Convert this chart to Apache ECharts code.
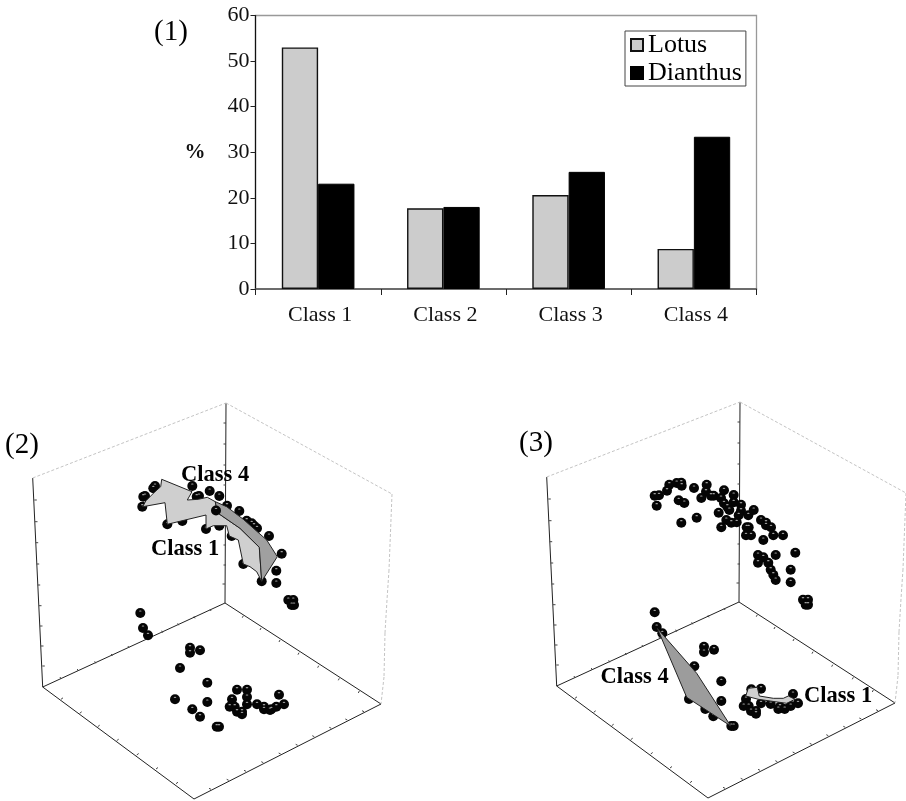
<!DOCTYPE html>
<html><head><meta charset="utf-8">
<style>html,body{margin:0;padding:0;background:#fff}#c{width:906px;height:801px}</style>
<script src="https://cdn.jsdelivr.net/npm/echarts@6/dist/echarts.min.js"></script>
</head><body><div id="c"></div>
<script>
const categories = ['Class 1','Class 2','Class 3','Class 4'];
const lotus = [53, 17.7, 20.6, 8.8];
const dianthus = [23.1, 18, 25.7, 33.4];
const yTicks = [0,10,20,30,40,50,60];

// Projected points (panel 2)
const panel2Points = [
[143.3,496.7],[145,496],[142.3,506.7],[155,486],[153.3,488.3],[192.3,486],[199,496],[196.7,496.7],[209.7,491],[219.3,496],
[227,505.7],[239.3,511],[246.7,520.7],[251.7,523.3],[254,525.7],[257,528.3],[269,536],[281.7,553.7],[276.3,570.7],[276.3,583],
[261.7,581.3],[243.3,564],[231.7,536],[219.3,525.7],[206,529],[182.3,521],[167.3,524.3],[216,510.7],
[288.3,600],[293.3,600],[291.7,605],[294,605],
[140.3,613],[143,628],[148,635.3],[190,647.7],[190,652.7],[200,650.3],[180,668],[207.3,682.7],[175,699.3],[207.3,702],
[192.3,709.3],[200,716.7],[216.7,726.7],[219,726.7],[237,689.7],[247,689.7],[247,697],[232,699.3],[247,704.3],[229.7,706.7],
[234.7,706.7],[237,711.7],[242,711.7],[242,714.3],[257,704.3],[264,706.7],[264,709.3],[270,710],[271.3,709.3],[276.3,706.7],
[279,694.7],[284,704.3]];
// Points drawn over the shaded surface in panel 2
const panel2TopPoints = [[216,510.5]];
// Projected points (panel 3)
const panel3Points = [
[654.7,495.7],[659,495.3],[656.7,505.7],[667,490.7],[669.3,484.7],[676.7,483],[681.3,482.7],[681.7,485.7],[678.7,500.3],[684.3,503],
[681.3,522.7],[696.7,517.7],[694,488],[706.7,484.7],[706,491.7],[701.3,498],[711,495.7],[713.7,495.7],[724,490.3],[721,498],
[724,503.3],[733.7,495],[733.7,502.3],[727.3,506.7],[729.3,510],[741,504.7],[741,510.7],[718.7,512.7],[738.7,515.3],[748.3,515.3],
[753.7,510],[726.3,520],[731.3,522.7],[736.7,522.3],[721.3,527.3],[746.7,527.3],[748.7,527.3],[746,535.3],[751,535.3],[761,520],
[766,522.7],[766,525.3],[771,527.3],[773.3,535.3],[783,535.3],[763.3,540],[758,555],[763.3,557.3],[758,562.7],[768.3,562.7],
[775.7,555],[795.3,552.7],[770.7,569.7],[773.3,574.7],[775.7,580],[790.7,569.7],[790.7,582.3],[803,599.7],[808,599.7],[805.7,604.7],
[808,604.7],[654.7,612.3],
[656.7,627],[662.3,633.3],[704,646.7],[704,652],[714,649.7],[694.3,666.3],[721.3,681.3],[689,699],[721.3,701],[705.3,709],
[713.3,716.3],[731.3,726],[733.7,726],[751.3,689.3],[761,688.7],[761,703.3],[746,699],[748.7,706],[743.7,706],[751,711],
[756,711],[756,713.7],[770.7,704],[778.3,709],[784.7,709],[790.7,706],[793,694],[798,703.3],[780,706.7]];

const panel2Class1 = [[142.7,506.7],[146,500.7],[155,491.7],[160.7,486.7],[161.7,479.3],[192,491.7],[187.3,500],[198.3,499.3],[207.3,497.3],
[215.3,501.7],[217.3,512.7],[240,528.3],[259.3,547.3],[261.7,581.3],[256.7,571.7],[250,566.7],[243.3,564],[238.3,540],[229.3,536],
[226.7,525.7],[213.3,525.7],[206,529],[206,515],[167.3,524.3],[165,502.7]];
const panel2Class4 = [[215.3,501.7],[226.7,506.7],[243.3,519.3],[266.7,540],[277.3,556.7],[261.7,581.3],[259.3,547.3],[240,528.3],[217.3,512.7]];
const panel3Class4 = [[657.3,628.3],[696.7,673.3],[730.7,726],[686.7,697.3]];
const panel3Class1 = [[745.7,696],[748.3,688.3],[757.3,687.3],[759.3,696],[773.3,698.3],[783.3,698.3],[788.3,696],[795,699.3],[786.7,703.3],[775,701.7],[758.3,699.3]];

// 3-D box frame of panel 2; panel 3 is the same box moved by frameShift
const frameSolid = [[32.7,478,42.7,687],[226,403,225,603],[42.7,687,225,603],[225,603,381,704],[381,704,194,799],[194,799,42.7,687]];
const frameDashed = [[32.7,478,226,403],[226,403,392,494],[392,494,389,570],[389,570,387,600],[387,600,385,633],[385,633,384,677],[384,677,381,704]];
const ticksLeft = [[34.3,500],[35,521.7],[35.7,542.7],[36.7,564],[37.7,585],[39,605.7],[40,626],[41,646],[42.3,666]];
const ticksBack = [[226,423],[226,444],[226,465],[226,485],[226,505],[226,525],[226,545],[226,565],[225,584]];
const ticksFloorBL = [[61,679],[78.3,671],[95.7,663.3],[112.3,656],[129,648],[146,640],[162.7,632.7],[178.7,625.3],[195,618.3],[211,611]];
const ticksFloorFL = [[61,699.3],[79.7,713.3],[97.7,726.7],[116.7,740.7],[136.7,755],[156,769],[176,783.7]];
const ticksFloorBR = [[243.3,615.7],[261,628],[280,640],[299,652.7],[318.7,665.7],[339.3,678.3],[359.3,691]];
const ticksFloorFR = [[211,789.3],[228.7,780.3],[246,771.3],[263.3,762.7],[280.7,754],[297.7,745.3],[314.3,736.7],[331.3,728.3],[347.3,720],[364,711.7]];
const frameShift = [514,-1];

const tickSegs = (pts,dx,dy)=>pts.map(p=>[p[0],p[1],p[0]+dx,p[1]+dy]);
const allTicks = [].concat(tickSegs(ticksLeft,2.5,0),tickSegs(ticksBack,-2.5,0),tickSegs(ticksFloorBL,-1,-2),
  tickSegs(ticksFloorFL,2,-1.5),tickSegs(ticksFloorBR,-1,2),tickSegs(ticksFloorFR,-2,-1));
const shift = segs=>segs.map(s=>[s[0]+frameShift[0],s[1]+frameShift[1],s[2]+frameShift[0],s[3]+frameShift[1]]);

const FONT = '"Liberation Serif","Times New Roman",serif';
const segSeries = (data,style,z)=>({type:'custom',xAxisIndex:1,yAxisIndex:1,coordinateSystem:'cartesian2d',silent:true,z,clip:false,
  encode:{x:[0,2],y:[1,3]},data,
  renderItem:(p,api)=>{const a=api.coord([api.value(0),api.value(1)]),b=api.coord([api.value(2),api.value(3)]);
    return {type:'line',shape:{x1:a[0],y1:a[1],x2:b[0],y2:b[1]},style};}});
const polySeries = (data,fill,z)=>({type:'custom',xAxisIndex:1,yAxisIndex:1,silent:true,z,clip:false,encode:{x:0,y:1},data,
  renderItem:(p,api)=>{ if(p.dataIndex!==0) return null;
    return {type:'polygon',shape:{points:data.map(d=>api.coord(d))},style:{fill,stroke:'#222',lineWidth:1}};}});
const ballSeries = (data,z)=>[
  {type:'scatter',xAxisIndex:1,yAxisIndex:1,silent:true,z,data,symbol:'circle',symbolSize:10,itemStyle:{color:'#050505',opacity:1}},
  {type:'scatter',xAxisIndex:1,yAxisIndex:1,silent:true,z:z+1,data,symbol:'circle',symbolSize:[2.6,1.2],symbolOffset:[0,-2],itemStyle:{color:'#aaa',opacity:1}}];
const text=(t,x,y,size,bold)=>({type:'text',x,y,z:50,style:{text:t,fill:'#000',font:(bold?'bold ':'')+size+'px '+FONT,textVerticalAlign:'middle'}});

const chart = echarts.init(document.getElementById('c'),null,{renderer:'canvas'});
chart.setOption({
  animation:false,backgroundColor:'#fff',
  textStyle:{fontFamily:FONT},
  grid:[{left:255.5,top:15.5,width:501,height:273.5,show:true,borderColor:'#999',borderWidth:1.3,backgroundColor:'transparent'},
        {left:0,top:0,width:906,height:801,show:false}],
  xAxis:[{type:'category',gridIndex:0,data:categories,axisLine:{lineStyle:{color:'#555',width:1.5}},
          axisTick:{show:true,length:6,alignWithLabel:false,lineStyle:{color:'#222'}},
          axisLabel:{color:'#111',fontSize:22,margin:15,padding:[0,0,0,4],fontFamily:FONT},splitLine:{show:false}},
         {type:'value',gridIndex:1,min:0,max:906,show:false}],
  yAxis:[{type:'value',gridIndex:0,min:0,max:60,interval:10,name:'%',nameLocation:'middle',nameRotate:0,nameGap:50,
          nameTextStyle:{color:'#111',fontSize:21,fontWeight:'bold',fontFamily:FONT},
          axisLine:{show:true,lineStyle:{color:'#111',width:1.2}},axisTick:{show:true,length:5,lineStyle:{color:'#222'}},
          axisLabel:{color:'#111',fontSize:22,margin:6,fontFamily:FONT,formatter:v=>yTicks.includes(v)?String(v):''},splitLine:{show:false}},
         {type:'value',gridIndex:1,min:0,max:801,inverse:true,show:false}],
  legend:{show:true,orient:'vertical',left:625,top:31,padding:[1,4,0,5],itemGap:2,itemWidth:12,itemHeight:12,icon:'rect',
    borderColor:'#444',borderWidth:1,backgroundColor:'#fff',
    textStyle:{color:'#000',fontSize:26,fontFamily:FONT},data:['Lotus','Dianthus'],z:20},
  series:[
    {name:'Lotus',type:'bar',xAxisIndex:0,yAxisIndex:0,data:lotus,barGap:0,barCategoryGap:'42%',itemStyle:{color:'#cccccc',borderColor:'#111',borderWidth:1.4}},
    {name:'Dianthus',type:'bar',xAxisIndex:0,yAxisIndex:0,data:dianthus,itemStyle:{color:'#000',borderColor:'#000',borderWidth:1}},
    segSeries(frameSolid,{stroke:'#222',lineWidth:1},2),
    segSeries(allTicks,{stroke:'#444',lineWidth:1},2),
    segSeries(frameDashed,{stroke:'#c4c4c4',lineWidth:1,lineDash:[3,2]},2),
    segSeries(shift(frameSolid),{stroke:'#222',lineWidth:1},2),
    segSeries(shift(allTicks),{stroke:'#444',lineWidth:1},2),
    segSeries(shift(frameDashed),{stroke:'#c4c4c4',lineWidth:1,lineDash:[3,2]},2),
    ...ballSeries(panel2Points,5),...ballSeries(panel3Points,5),
    polySeries(panel2Class1,'#cfcfcf',10),polySeries(panel2Class4,'#a0a0a0',11),
    polySeries(panel3Class4,'#9c9c9c',10),polySeries(panel3Class1,'#cfcfcf',11),
    ...ballSeries(panel2TopPoints,12)
  ],
  graphic:[text('(1)',154,32,29),text('(2)',5,445,29),text('(3)',519,443,29),
    text('Class 4',181,475,22.5,true),text('Class 1',151,549,22.5,true),
    text('Class 4',600.5,677,22.5,true),text('Class 1',804,696,22.5,true)]
});
</script></body></html>
